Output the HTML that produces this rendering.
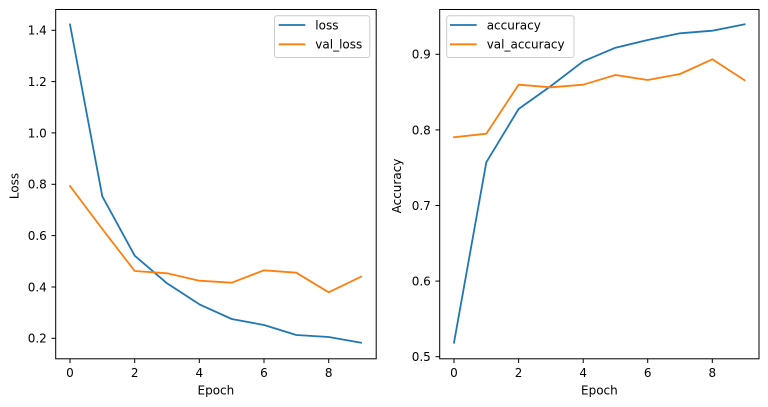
<!DOCTYPE html>
<html>
<head>
<meta charset="utf-8">
<style>
html,body{margin:0;padding:0;background:#fff;}
svg{display:block;}
text{font-family:"DejaVu Sans","Liberation Sans",sans-serif;font-size:12px;fill:#000;}
</style>
</head>
<body>
<svg width="768" height="407" viewBox="0 0 768 407" xmlns="http://www.w3.org/2000/svg">
<rect width="768" height="407" fill="#fff"/>

<!-- LEFT AXES -->
<g>
  <polyline fill="none" stroke="#1f77b4" stroke-width="1.8" stroke-linejoin="round" stroke-linecap="square"
    points="70,24.5 102.3,196.3 134.7,255.7 167,283.3 199.3,304.3 231.7,319 264,325 296.3,335 328.7,337 361,342.7"/>
  <polyline fill="none" stroke="#ff7f0e" stroke-width="1.8" stroke-linejoin="round" stroke-linecap="square"
    points="70,186 102.3,229 134.7,271 167,273.3 199.3,280.7 231.7,282.7 264,270.3 296.3,272.7 328.7,292.3 361,276.7"/>
  <rect x="55.7" y="9.5" width="320.5" height="349.3" fill="none" stroke="#000" stroke-width="1"/>
  <g stroke="#000" stroke-width="1">
    <line x1="51.5" x2="55.7" y1="338.3" y2="338.3"/>
    <line x1="51.5" x2="55.7" y1="287.0" y2="287.0"/>
    <line x1="51.5" x2="55.7" y1="235.6" y2="235.6"/>
    <line x1="51.5" x2="55.7" y1="184.3" y2="184.3"/>
    <line x1="51.5" x2="55.7" y1="132.9" y2="132.9"/>
    <line x1="51.5" x2="55.7" y1="81.6" y2="81.6"/>
    <line x1="51.5" x2="55.7" y1="30.3" y2="30.3"/>
  </g>
  <g text-anchor="end">
    <text x="46.8" y="342.7">0.2</text>
    <text x="46.8" y="291.4">0.4</text>
    <text x="46.8" y="240.0">0.6</text>
    <text x="46.8" y="188.7">0.8</text>
    <text x="46.8" y="137.3">1.0</text>
    <text x="46.8" y="86.0">1.2</text>
    <text x="46.8" y="34.7">1.4</text>
  </g>
  <g stroke="#000" stroke-width="1">
    <line x1="70" x2="70" y1="358.8" y2="363"/>
    <line x1="134.7" x2="134.7" y1="358.8" y2="363"/>
    <line x1="199.3" x2="199.3" y1="358.8" y2="363"/>
    <line x1="264" x2="264" y1="358.8" y2="363"/>
    <line x1="328.7" x2="328.7" y1="358.8" y2="363"/>
  </g>
  <g text-anchor="middle">
    <text x="70" y="376.8">0</text>
    <text x="134.7" y="376.8">2</text>
    <text x="199.3" y="376.8">4</text>
    <text x="264" y="376.8">6</text>
    <text x="328.7" y="376.8">8</text>
    <text x="215.9" y="394.3">Epoch</text>
  </g>
  <text transform="translate(18.5,186) rotate(-90)" text-anchor="middle">Loss</text>
  <rect x="274.5" y="15.7" width="95.3" height="41.8" rx="2.5" ry="2.5" fill="#fff" fill-opacity="0.8" stroke="#cccccc" stroke-width="1"/>
  <line x1="278.7" x2="305.3" y1="25" y2="25" stroke="#1f77b4" stroke-width="1.8"/>
  <line x1="278.7" x2="305.3" y1="44.3" y2="44.3" stroke="#ff7f0e" stroke-width="1.8"/>
  <text x="315.3" y="29.4">loss</text>
  <text x="315.3" y="48.7">val_loss</text>
</g>

<!-- RIGHT AXES -->
<g>
  <polyline fill="none" stroke="#1f77b4" stroke-width="1.8" stroke-linejoin="round" stroke-linecap="square"
    points="454,342.7 486.3,162.3 518.6,109 550.9,86 583.2,61.3 615.5,47.7 647.7,40 680,33.3 712.3,30.7 744.6,24.3"/>
  <polyline fill="none" stroke="#ff7f0e" stroke-width="1.8" stroke-linejoin="round" stroke-linecap="square"
    points="454,137.3 486.3,133.7 518.6,84.7 550.9,87.3 583.2,84.7 615.5,75 647.7,80 680,74 712.3,59.3 744.6,80.3"/>
  <rect x="439.7" y="9.5" width="319.3" height="349.3" fill="none" stroke="#000" stroke-width="1"/>
  <g stroke="#000" stroke-width="1">
    <line x1="435.5" x2="439.7" y1="356.7" y2="356.7"/>
    <line x1="435.5" x2="439.7" y1="281.1" y2="281.1"/>
    <line x1="435.5" x2="439.7" y1="205.5" y2="205.5"/>
    <line x1="435.5" x2="439.7" y1="129.9" y2="129.9"/>
    <line x1="435.5" x2="439.7" y1="54.3" y2="54.3"/>
  </g>
  <g text-anchor="end">
    <text x="430.8" y="361.1">0.5</text>
    <text x="430.8" y="285.5">0.6</text>
    <text x="430.8" y="209.9">0.7</text>
    <text x="430.8" y="134.3">0.8</text>
    <text x="430.8" y="58.7">0.9</text>
  </g>
  <g stroke="#000" stroke-width="1">
    <line x1="454" x2="454" y1="358.8" y2="363"/>
    <line x1="518.6" x2="518.6" y1="358.8" y2="363"/>
    <line x1="583.2" x2="583.2" y1="358.8" y2="363"/>
    <line x1="647.7" x2="647.7" y1="358.8" y2="363"/>
    <line x1="712.3" x2="712.3" y1="358.8" y2="363"/>
  </g>
  <g text-anchor="middle">
    <text x="454" y="376.8">0</text>
    <text x="518.6" y="376.8">2</text>
    <text x="583.2" y="376.8">4</text>
    <text x="647.7" y="376.8">6</text>
    <text x="712.3" y="376.8">8</text>
    <text x="599.4" y="394.3">Epoch</text>
  </g>
  <text transform="translate(401,186) rotate(-90)" text-anchor="middle">Accuracy</text>
  <rect x="446.7" y="15.7" width="127.3" height="41.8" rx="2.5" ry="2.5" fill="#fff" fill-opacity="0.8" stroke="#cccccc" stroke-width="1"/>
  <line x1="450" x2="476.7" y1="25" y2="25" stroke="#1f77b4" stroke-width="1.8"/>
  <line x1="450" x2="476.7" y1="44.3" y2="44.3" stroke="#ff7f0e" stroke-width="1.8"/>
  <text x="486.7" y="29.4">accuracy</text>
  <text x="486.7" y="48.7">val_accuracy</text>
</g>
</svg>
</body>
</html>
